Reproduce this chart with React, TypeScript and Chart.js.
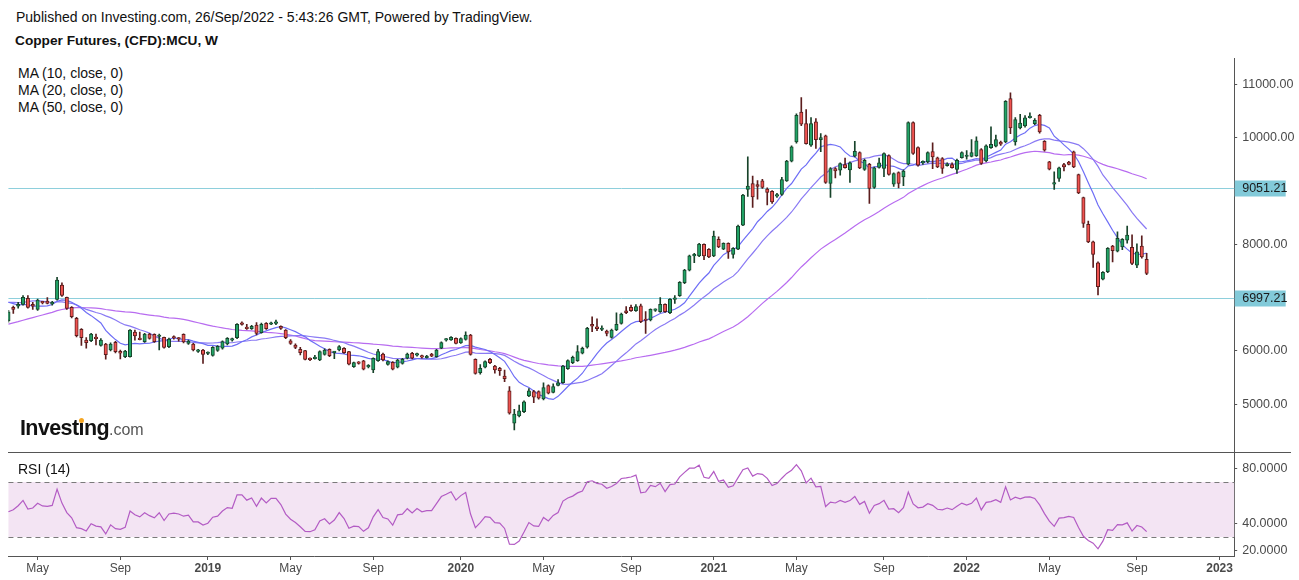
import React, { useEffect, useRef } from 'react';
import { Chart, registerables } from 'chart.js';
Chart.register(...registerables);

const FONT = 'Arial, "Liberation Sans", sans-serif';

// ---- data ----
const START_WEEK = [2018, 2, 25]; // first weekly bar: 25 Mar 2018
const TOTAL_WEEKS = 253; // bars + empty future weeks to the right edge

const opens = [
  6566, 6817, 6841, 6873, 6986, 6873, 6779, 6910, 6935, 6880,
  6967, 7235, 7004, 6817, 6611, 6404, 6203, 6190, 6240, 6104,
  6128, 6016, 6160, 5991, 5890, 5890, 6353, 6220, 6172, 6316,
  6310, 6270, 6254, 6078, 6260, 6241, 6310, 6141, 6128, 5991,
  6016, 5950, 5916, 6010, 6048, 6128, 6200, 6247, 6528, 6442,
  6416, 6485, 6341, 6516, 6500, 6516, 6460, 6391, 6190, 6110,
  6029, 6003, 5840, 5855, 5828, 5935, 6029, 5966, 6016, 6048,
  5984, 5703, 5784, 5810, 5700, 5640, 5815, 5941, 5747, 5785,
  5691, 5766, 5860, 5954, 5920, 5910, 5870, 5941, 5890, 6048,
  6200, 6203, 6235, 6150, 6216, 6297, 5841, 5590, 5691, 5841,
  5716, 5672, 5528, 5247, 4641, 4778, 4858, 5153, 5234, 5234,
  5097, 5347, 5220, 5350, 5403, 5665, 5778, 5815, 5954, 6067,
  6497, 6453, 6400, 6372, 6254, 6391, 6517, 6753, 6817, 6753,
  6847, 6580, 6579, 6760, 6735, 6873, 6716, 6967, 7034, 7278,
  7517, 7785, 7785, 8000, 7905, 7785, 8093, 7910, 8017, 7810,
  7910, 8361, 9030, 9143, 9124, 9192, 9036, 8998, 8905, 8936,
  9192, 9562, 9924, 10486, 10268, 9862, 10299, 9968, 10036, 9143,
  9424, 9393, 9500, 9400, 9655, 9724, 9406, 9505, 9068, 9443,
  9424, 9668, 9130, 9350, 9267, 9505, 10287, 9818, 9530, 9548,
  9743, 9624, 9612, 9480, 9500, 9406, 9630, 9650, 9650, 9661,
  9780, 9567, 9818, 9843, 9920, 9924, 10738, 9924, 10186, 10224,
  10380, 10268, 10424, 9936, 9548, 9130, 9237, 9500, 9543, 9736,
  9312, 8880, 8374, 8048, 7654, 7348, 7485, 7967, 7873, 7953,
  8080, 7942, 7610, 7967, 7717,
];

const closes = [
  6734, 6779, 6873, 7004, 6817, 6841, 6954, 6900, 6892, 6910,
  7329, 7042, 6798, 6640, 6284, 6247, 6153, 6316, 6230, 6203,
  5928, 6128, 5984, 5954, 5997, 6391, 6278, 6212, 6316, 6234,
  6172, 6290, 6066, 6222, 6241, 6222, 6166, 6185, 6016, 6016,
  5935, 5966, 6066, 6085, 6172, 6235, 6222, 6498, 6498, 6416,
  6460, 6329, 6498, 6416, 6516, 6516, 6420, 6247, 6141, 6066,
  5965, 5841, 5835, 5860, 5984, 6016, 5909, 5966, 6078, 5966,
  5748, 5778, 5766, 5654, 5700, 5860, 5984, 5828, 5796, 5654,
  5828, 5841, 5941, 5860, 5941, 5880, 5900, 5900, 6016, 6153,
  6200, 6254, 6141, 6230, 6297, 5935, 5578, 5673, 5796, 5778,
  5641, 5627, 5478, 4828, 4810, 4871, 5040, 5247, 5128, 5110,
  5309, 5203, 5330, 5400, 5716, 5815, 5878, 5984, 6048, 6423,
  6465, 6416, 6400, 6329, 6391, 6497, 6691, 6716, 6753, 6830,
  6547, 6570, 6779, 6760, 6873, 6735, 6967, 6990, 7286, 7517,
  7785, 7785, 8004, 7785, 7766, 8155, 7953, 8017, 7860, 7924,
  8342, 8924, 9093, 8892, 9087, 9068, 8974, 8798, 8905, 9218,
  9562, 9830, 10424, 10255, 9893, 10268, 9968, 10005, 9162, 9424,
  9380, 9518, 9440, 9530, 9749, 9436, 9580, 9049, 9436, 9530,
  9706, 9312, 9330, 9143, 9374, 10287, 9706, 9487, 9530, 9724,
  9643, 9455, 9424, 9510, 9440, 9580, 9724, 9650, 9724, 9942,
  9518, 9849, 9880, 9968, 9880, 10687, 10186, 10343, 10280, 10374,
  10380, 10330, 10111, 9768, 9411, 9130, 9436, 9455, 9500, 9455,
  8967, 8393, 8048, 7811, 7203, 7473, 7924, 7879, 8111, 8093,
  8174, 7642, 7860, 7766, 7455,
];

const highs = [
  6760, 6840, 6910, 7040, 7040, 6910, 6970, 6930, 7000, 6930,
  7380, 7278, 7010, 6830, 6630, 6420, 6247, 6330, 6316, 6230,
  6140, 6150, 6180, 6016, 6010, 6400, 6391, 6354, 6330, 6330,
  6320, 6316, 6260, 6240, 6280, 6250, 6320, 6200, 6140, 6030,
  6030, 5980, 6080, 6100, 6190, 6250, 6240, 6510, 6545, 6498,
  6480, 6530, 6520, 6530, 6540, 6580, 6470, 6400, 6210, 6130,
  6067, 6010, 5870, 5915, 6000, 6040, 6040, 5990, 6100, 6060,
  5990, 5790, 5800, 5820, 5740, 5870, 6029, 5960, 5810, 5800,
  5840, 5860, 5960, 5970, 5960, 5920, 5915, 5955, 6030, 6170,
  6230, 6270, 6245, 6245, 6359, 6310, 5850, 5740, 5810, 5860,
  5730, 5690, 5640, 5327, 4900, 4980, 5060, 5290, 5260, 5250,
  5400, 5360, 5380, 5460, 5730, 5830, 5900, 6100, 6070, 6440,
  6640, 6600, 6470, 6390, 6410, 6716, 6710, 6830, 6860, 6870,
  6880, 6735, 6790, 6790, 7000, 6885, 6980, 7040, 7300, 7530,
  7800, 7830, 8020, 8010, 7920, 8248, 8140, 8030, 8030, 7940,
  8360, 8940, 9642, 9280, 9200, 9220, 9060, 9010, 8960, 9260,
  9580, 9850, 10450, 10757, 10530, 10380, 10362, 10080, 10050, 9440,
  9440, 9530, 9620, 9550, 9936, 9740, 9600, 9520, 9450, 9620,
  9720, 9680, 9345, 9360, 9400, 10300, 10300, 9830, 9570, 9740,
  9905, 9640, 9630, 9530, 9530, 9600, 9740, 9760, 9968, 10020,
  9800, 9870, 10205, 10050, 9940, 10700, 10845, 10380, 10443, 10420,
  10470, 10360, 10440, 9950, 9560, 9361, 9450, 9520, 9560, 9750,
  9320, 8890, 8435, 8060, 7670, 7490, 7940, 7980, 8235, 8110,
  8342, 8180, 8010, 8160, 7830,
];

const lows = [
  6540, 6704, 6800, 6860, 6800, 6780, 6760, 6880, 6880, 6860,
  6950, 7020, 6780, 6620, 6260, 6100, 6048, 6170, 6110, 6090,
  5842, 6000, 5960, 5850, 5870, 5880, 6200, 6203, 6160, 6220,
  6160, 6016, 6050, 6060, 6220, 6180, 6150, 6120, 6000, 5970,
  5766, 5930, 5900, 5990, 6030, 6110, 6180, 6230, 6480, 6400,
  6400, 6300, 6330, 6400, 6490, 6490, 6400, 6230, 6120, 6040,
  5922, 5830, 5815, 5845, 5815, 5920, 5890, 5855, 6000, 5950,
  5735, 5690, 5750, 5640, 5680, 5590, 5800, 5810, 5730, 5640,
  5680, 5750, 5850, 5850, 5900, 5860, 5860, 5890, 5880, 6040,
  6180, 6195, 6130, 6140, 6200, 5920, 5560, 5560, 5680, 5760,
  5580, 5540, 5420, 4810, 4515, 4760, 4840, 5140, 5027, 5090,
  5080, 5190, 5210, 5340, 5390, 5650, 5760, 5800, 5940, 6050,
  6360, 6380, 6380, 6280, 6240, 6380, 6500, 6700, 6740, 6740,
  6530, 6329, 6560, 6740, 6720, 6720, 6700, 6890, 7020, 7260,
  7500, 7654, 7770, 7710, 7750, 7770, 7940, 7900, 7736, 7740,
  7900, 8350, 8900, 8693, 8850, 9050, 8740, 8770, 8880, 8920,
  9180, 9550, 9900, 10230, 9880, 9840, 9800, 9742, 9143, 8880,
  9250, 9300, 9430, 9162, 9640, 9420, 9390, 8768, 9050, 9430,
  9270, 9300, 9090, 9060, 9100, 9490, 9690, 9470, 9500, 9530,
  9420, 9440, 9330, 9470, 9430, 9330, 9620, 9600, 9640, 9650,
  9500, 9550, 9800, 9830, 9860, 9910, 10080, 9862, 10170, 10200,
  10370, 10250, 10090, 9750, 9400, 9030, 9180, 9380, 9490, 9440,
  8950, 8318, 8030, 7567, 7048, 7330, 7470, 7672, 7860, 7900,
  8020, 7620, 7560, 7740, 7430,
];

// weekly closes before the visible window (needed for MA 50 / RSI 14 warm-up)
const priorCloses = [
  5650, 5700, 5680, 5560, 5600, 5700, 5680, 5650, 5750, 5700,
  5900, 5920, 5950, 6050, 6250, 6350, 6450, 6500, 6600, 6750,
  6800, 6650, 6450, 6450, 6600, 6800, 7050, 7000, 6900, 6800,
  6750, 6950, 6900, 6550, 6600, 6900, 7050, 7200, 7100, 7050,
  7050, 7150, 6850, 6900, 7100, 6950, 6900, 6850, 6650,
];

const refLevels = [9051.21, 6997.21];
const priceTicks = [5000, 6000, 8000, 10000, 11000];
const rsiTicks = [20, 40, 80];
const rsiBand = [30, 70];
const maPeriods = [10, 20, 50];
const maLabels = ['MA (10, close, 0)', 'MA (20, close, 0)', 'MA (50, close, 0)'];
const monthTickNames: Record<number, string> = { 4: 'May', 8: 'Sep' };

// ---- styles ----
const GREEN = '#21a366';
const GREEN_EDGE = '#17432a';
const RED = '#ef5350';
const RED_EDGE = '#5b1d1d';
const MA_COLORS = ['#6e6ef6', '#8a7af4', '#b86cf0'];
const RSI_COLOR = '#b35bc4';
const AXIS = '#555555';
const TICK_TEXT = '#4a4a4a';
const REF_LINE = '#8ecfdc';
const REF_BOX = '#82cad9';

// ---- derived ----
const weekDates = Array.from({ length: TOTAL_WEEKS }, (_, i) =>
  new Date(Date.UTC(START_WEEK[0], START_WEEK[1], START_WEEK[2]) + i * 7 * 86400000)
);
const categories = weekDates.map((d) => d.toISOString().slice(0, 10));
const tickIndices: number[] = [];
weekDates.forEach((d, i) => {
  if (i === 0) return;
  const m = d.getUTCMonth();
  if (m !== weekDates[i - 1].getUTCMonth() && (m === 0 || m === 4 || m === 8)) tickIndices.push(i);
});
const tickText = (i: number) => {
  const d = weekDates[i];
  const m = d.getUTCMonth();
  return m === 0 ? String(d.getUTCFullYear()) : monthTickNames[m];
};

const allCloses = priorCloses.concat(closes);
const P = priorCloses.length;

function movingAverage(n: number) {
  return closes.map((_, i) => {
    const end = P + i;
    const start = Math.max(0, end - n + 1);
    let s = 0;
    for (let k = start; k <= end; k++) s += allCloses[k];
    return s / (end - start + 1);
  });
}

function rsi(n: number) {
  const out: (number | null)[] = new Array(allCloses.length).fill(null);
  let g = 0, l = 0;
  for (let k = 1; k <= n; k++) {
    const ch = allCloses[k] - allCloses[k - 1];
    if (ch > 0) g += ch; else l -= ch;
  }
  g /= n; l /= n;
  out[n] = 100 - 100 / (1 + g / (l || 1e-9));
  for (let k = n + 1; k < allCloses.length; k++) {
    const ch = allCloses[k] - allCloses[k - 1];
    g = (g * (n - 1) + Math.max(ch, 0)) / n;
    l = (l * (n - 1) + Math.max(-ch, 0)) / n;
    out[k] = 100 - 100 / (1 + g / (l || 1e-9));
  }
  return out.slice(P);
}

const LEFT_PAD = 8.44;
const AXIS_W = 64.8;

export default function App() {
  const priceRef = useRef<HTMLCanvasElement>(null);
  const rsiRef = useRef<HTMLCanvasElement>(null);

  useEffect(() => {
    const up = closes.map((c, i) => c >= opens[i]);
    const bodies = opens.map((o, i) => [Math.min(o, closes[i]), Math.max(o, closes[i])]);
    const wicks = lows.map((lo, i) => [lo, highs[i]]);

    const refPlugin = {
      id: 'refLines',
      beforeDatasetsDraw(chart: any) {
        const { ctx, chartArea, scales } = chart;
        ctx.save();
        ctx.strokeStyle = REF_LINE;
        ctx.lineWidth = 1;
        refLevels.forEach((v) => {
          const py = Math.round(scales.y.getPixelForValue(v)) + 0.5;
          ctx.beginPath();
          ctx.moveTo(chartArea.left, py);
          ctx.lineTo(chartArea.right, py);
          ctx.stroke();
        });
        ctx.restore();
      },
      afterDraw(chart: any) {
        const { ctx, chartArea, scales } = chart;
        ctx.save();
        refLevels.forEach((v) => {
          const py = Math.round(scales.y.getPixelForValue(v)) + 0.5;
          ctx.fillStyle = REF_BOX;
          ctx.fillRect(chartArea.right + 0.5, py - 8, 51, 16);
          ctx.fillStyle = '#1a1a1a';
          ctx.font = `12.5px ${FONT}`;
          ctx.textBaseline = 'middle';
          ctx.textAlign = 'left';
          ctx.fillText(v.toFixed(2), chartArea.right + 8, py + 0.5);
        });
        ctx.restore();
      },
    };

    const price = new Chart(priceRef.current!, {
      type: 'bar',
      data: {
        labels: categories,
        datasets: [
          {
            type: 'bar',
            data: bodies as any,
            backgroundColor: up.map((u) => (u ? GREEN : RED)),
            borderColor: up.map((u) => (u ? GREEN_EDGE : RED_EDGE)),
            borderWidth: 1,
            borderSkipped: false,
            barThickness: 3.4,
            minBarLength: 1.5,
            grouped: false,
          } as any,
          {
            type: 'bar',
            data: wicks as any,
            backgroundColor: up.map((u) => (u ? GREEN_EDGE : RED_EDGE)),
            barThickness: 1,
            grouped: false,
          } as any,
          ...maPeriods.map((n, k) => ({
            type: 'line' as const,
            data: movingAverage(n),
            borderColor: MA_COLORS[k],
            borderWidth: 1.2,
            pointRadius: 0,
            tension: 0,
          })),
        ],
      },
      options: {
        animation: false,
        responsive: true,
        maintainAspectRatio: false,
        events: [],
        layout: { padding: { left: LEFT_PAD, right: 0, top: 20, bottom: 20 } },
        plugins: { legend: { display: false }, tooltip: { enabled: false } },
        scales: {
          x: { type: 'category', display: false, offset: false, grid: { display: false } },
          y: {
            position: 'right',
            min: 4100,
            max: 11500,
            afterFit: (s: any) => { s.width = AXIS_W; },
            afterBuildTicks: (s: any) => { s.ticks = priceTicks.map((v) => ({ value: v })); },
            ticks: {
              callback: (v: any) => Number(v).toFixed(2),
              color: TICK_TEXT,
              font: { family: FONT, size: 12.5 },
              padding: 5,
            },
            grid: { drawOnChartArea: false, drawTicks: true, tickLength: 3, color: AXIS },
            border: { display: true, color: AXIS, width: 1 },
          },
        },
      } as any,
      plugins: [refPlugin],
    });

    const bandPlugin = {
      id: 'rsiBand',
      beforeDatasetsDraw(chart: any) {
        const { ctx, chartArea, scales } = chart;
        const yTop = scales.y.getPixelForValue(rsiBand[1]);
        const yBot = scales.y.getPixelForValue(rsiBand[0]);
        ctx.save();
        ctx.fillStyle = '#f3e4f3';
        ctx.fillRect(chartArea.left, yTop, chartArea.right - chartArea.left, yBot - yTop);
        ctx.strokeStyle = '#7a7a7a';
        ctx.lineWidth = 1;
        ctx.setLineDash([5, 4]);
        [yTop, yBot].forEach((py) => {
          const p = Math.round(py) + 0.5;
          ctx.beginPath();
          ctx.moveTo(chartArea.left, p);
          ctx.lineTo(chartArea.right, p);
          ctx.stroke();
        });
        ctx.restore();
      },
    };

    const rsiChart = new Chart(rsiRef.current!, {
      type: 'line',
      data: {
        labels: categories,
        datasets: [
          {
            data: rsi(14),
            borderColor: RSI_COLOR,
            borderWidth: 1.2,
            pointRadius: 0,
            tension: 0,
          },
        ],
      },
      options: {
        animation: false,
        responsive: true,
        maintainAspectRatio: false,
        events: [],
        layout: { padding: { left: LEFT_PAD, right: 0, top: 20.7, bottom: 0 } },
        plugins: { legend: { display: false }, tooltip: { enabled: false } },
        scales: {
          x: {
            type: 'category',
            offset: false,
            afterFit: (s: any) => { s.height = 24; },
            afterBuildTicks: (s: any) => { s.ticks = tickIndices.map((i) => ({ value: i })); },
            ticks: {
              autoSkip: false,
              maxRotation: 0,
              minRotation: 0,
              padding: 1,
              color: TICK_TEXT,
              callback: (v: any) => tickText(Number(v)),
              font: (ctx: any) => {
                const i = ctx.tick ? ctx.tick.value : 0;
                const isYear = weekDates[i] && weekDates[i].getUTCMonth() === 0;
                return { family: FONT, size: 12, weight: isYear ? 'bold' : 'normal' };
              },
            },
            grid: { drawOnChartArea: false, drawTicks: true, tickLength: 4, color: AXIS },
            border: { display: true, color: AXIS, width: 1 },
          },
          y: {
            position: 'right',
            min: 16.26,
            max: 91.25,
            afterFit: (s: any) => { s.width = AXIS_W; },
            afterBuildTicks: (s: any) => { s.ticks = rsiTicks.map((v) => ({ value: v })); },
            ticks: {
              callback: (v: any) => Number(v).toFixed(4),
              color: TICK_TEXT,
              font: { family: FONT, size: 12.5 },
              padding: 5,
            },
            grid: { drawOnChartArea: false, drawTicks: true, tickLength: 3, color: AXIS },
            border: { display: true, color: AXIS, width: 1 },
          },
        },
      } as any,
      plugins: [bandPlugin],
    });

    return () => {
      price.destroy();
      rsiChart.destroy();
    };
  }, []);

  const text: React.CSSProperties = {
    position: 'absolute',
    fontFamily: FONT,
    color: '#111',
    whiteSpace: 'nowrap',
    lineHeight: '16px',
  };

  return (
    <div style={{ position: 'absolute', left: 0, top: 0, width: 1299, height: 580, background: '#fff', overflow: 'hidden' }}>
      <div style={{ ...text, left: 16, top: 9, fontSize: 14 }}>
        Published on Investing.com, 26/Sep/2022 - 5:43:26 GMT, Powered by TradingView.
      </div>
      <div style={{ ...text, left: 15, top: 33, fontSize: 13.7, fontWeight: 'bold' }}>
        Copper Futures, (CFD):MCU, W
      </div>
      {maLabels.map((t, k) => (
        <div key={t} style={{ ...text, left: 18, top: 65 + k * 17, fontSize: 14 }}>{t}</div>
      ))}
      <div style={{ position: 'absolute', left: 0, top: 38, width: 1299, height: 434 }}>
        <canvas ref={priceRef} />
      </div>
      <div style={{ position: 'absolute', left: 0, top: 432, width: 1299, height: 148 }}>
        <canvas ref={rsiRef} />
      </div>
      <div style={{ position: 'absolute', left: 8, top: 452, width: 1283, height: 1, background: AXIS }} />
      <div style={{ ...text, left: 18, top: 461, fontSize: 14 }}>RSI (14)</div>
      <div style={{ position: 'absolute', left: 20, top: 416, fontFamily: FONT, whiteSpace: 'nowrap', lineHeight: '24px' }}>
        <span style={{ fontSize: 21.5, fontWeight: 'bold', color: '#111', letterSpacing: '-0.6px' }}>
          Invest
          <span style={{ position: 'relative' }}>
            ı
            <span style={{ position: 'absolute', left: 0, top: 2, width: 5, height: 5, borderRadius: '50%', background: '#f5a623' }} />
          </span>
          ng
        </span>
        <span style={{ fontSize: 16, color: '#555' }}>.com</span>
      </div>
    </div>
  );
}
